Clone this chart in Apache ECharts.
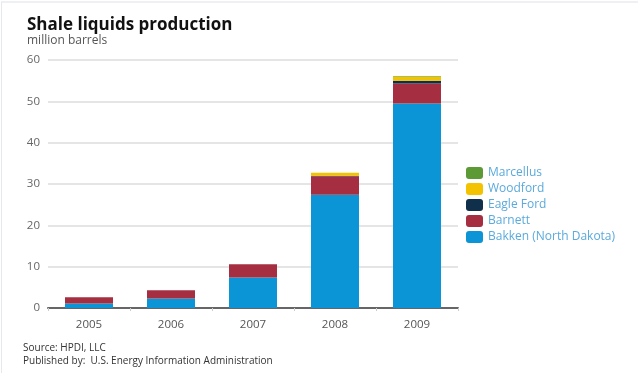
<!DOCTYPE html>
<html>
<head>
<meta charset="utf-8">
<script src="https://cdn.jsdelivr.net/npm/echarts@6/dist/echarts.min.js"></script>
<style>
  html, body { margin: 0; padding: 0; background: #fff; }
  #frame { position: absolute; left: 1px; top: 1px; width: 636px; height: 370px; border-left: 1px solid #e6e8ec; border-top: 2px solid #eef0f3; }
  #chart { position: absolute; left: 0; top: 0; width: 640px; height: 373px; }
</style>
</head>
<body>
<div id="frame"></div>
<div id="chart"></div>
<script>
const categories = ['2005', '2006', '2007', '2008', '2009'];
const bakken    = [1.1, 2.3, 7.4, 27.4, 49.5];
const barnett   = [1.5, 2.0, 3.2, 4.5, 4.8];
const eagleFord = [0, 0, 0, 0.1, 0.7];
const woodford  = [0, 0, 0, 0.7, 1.0];
const marcellus = [0, 0, 0, 0, 0.1];
const yTicks = [0, 10, 20, 30, 40, 50, 60];

const seriesDefs = [
  { name: 'Bakken (North Dakota)', data: bakken, color: '#0b95d6' },
  { name: 'Barnett', data: barnett, color: '#a52f40' },
  { name: 'Eagle Ford', data: eagleFord, color: '#0f2f4a' },
  { name: 'Woodford', data: woodford, color: '#f4c300' },
  { name: 'Marcellus', data: marcellus, color: '#5b9a35' }
];

const chart = echarts.init(document.getElementById('chart'), null, { renderer: 'canvas' });
const font = '"Open Sans", "DejaVu Sans", sans-serif';
chart.setOption({
  animation: false,
  textStyle: { fontFamily: font },
  title: {
    text: 'Shale liquids production',
    subtext: 'million barrels',
    left: 22, top: 12,
    itemGap: 1,
    textStyle: { fontSize: 17, fontWeight: 'bold', color: '#111', fontFamily: font },
    subtextStyle: { fontSize: 12, color: '#555', fontFamily: font }
  },
  legend: {
    data: ['Marcellus', 'Woodford', 'Eagle Ford', 'Barnett', 'Bakken (North Dakota)'],
    orient: 'vertical',
    left: 461, top: 162,
    itemWidth: 17, itemHeight: 12, itemGap: 4,
    icon: 'roundRect',
    textStyle: { color: '#5aaadc', fontSize: 12, fontFamily: font }
  },
  grid: { left: 48, right: 182, top: 60, bottom: 65, containLabel: false },
  xAxis: {
    type: 'category',
    data: categories,
    axisLine: { lineStyle: { color: '#666', width: 2 } },
    axisTick: { show: true, length: 3, lineStyle: { color: '#ccc' } },
    axisLabel: { color: '#555', fontSize: 11.5, margin: 11 }
  },
  yAxis: {
    type: 'value',
    min: yTicks[0], max: yTicks[yTicks.length - 1], interval: 10,
    axisLine: { show: false },
    axisTick: { show: false },
    axisLabel: { color: '#666', fontSize: 11.5, margin: 8 },
    splitLine: { lineStyle: { color: '#dcdcdc', width: 1.5 } }
  },
  series: seriesDefs.map(s => ({
    name: s.name,
    type: 'bar',
    stack: 'total',
    barWidth: 48,
    data: s.data,
    itemStyle: { color: s.color }
  })),
  graphic: [
    { type: 'text', left: 23, top: 343, style: { text: 'Source: HPDI, LLC', fill: '#333', font: '10px ' + font } },
    { type: 'text', left: 23, top: 356, style: { text: 'Published by:  U.S. Energy Information Administration', fill: '#333', font: '10px ' + font } }
  ]
});
</script>
</body>
</html>
